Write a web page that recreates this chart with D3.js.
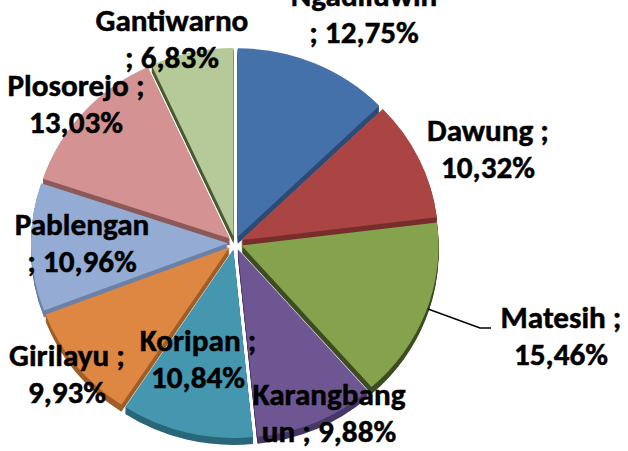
<!DOCTYPE html>
<html lang="id">
<head>
  <meta charset="utf-8">
  <title>Pie Kecamatan Matesih</title>
  <script src="https://cdn.jsdelivr.net/npm/d3@7"></script>
  <style>
    body { margin: 0; background: #fff; }
    .lbl { font-family: Carlito, Lato, "Open Sans", sans-serif; font-weight: bold; fill: #000;
           stroke: #000; stroke-width: 0.5px; }
  </style>
</head>
<body>
<script>
  // data desa (persen)
  const desa = ["Ngadiluwih", "Dawung", "Matesih", "Karangbangun", "Koripan",
                "Girilayu", "Pablengan", "Plosorejo", "Gantiwarno"];
  const persen = [12.75, 10.32, 15.46, 9.88, 10.84, 9.93, 10.96, 13.03, 6.83];

  // warna muka atas dan sisi gelap
  const warna = ["#4571aa", "#aa4543", "#85a24c", "#6e5693", "#4497ae",
                 "#dd8742", "#94abd3", "#d49392", "#b6c999"];
  const warnaSisi = ["#2e4c76", "#772e2c", "#3e4d23", "#483866", "#2a677a",
                     "#a05e27", "#6d81a6", "#8c5a59", "#4b5a31"];

  // posisi label (x tengah, baseline baris 1) dan cara memecah baris
  const labelPos = {
    "Ngadiluwih":   [364, 6, "b"],
    "Dawung":       [488, 141, "a"],
    "Matesih":      [561, 328, "a"],
    "Karangbangun": [329, 405, 10],
    "Koripan":      [198, 351, "a"],
    "Girilayu":     [67, 366, "a"],
    "Pablengan":    [82, 235, "b"],
    "Plosorejo":    [76, 96, "a"],
    "Gantiwarno":   [172, 31, "b"]
  };

  const w = 628, h = 451;
  const cx = 235, cy = 243;
  const R = 197, k = 0.957, explode = 7, depth = 7;

  const svg = d3.select("body").append("svg")
    .attr("width", w).attr("height", h);

  const data = desa.map((d, i) => ({ name: d, value: persen[i], i: i }));

  const pie = d3.pie().sort(null).value(d => d.value);
  const arcs = pie(data);
  const arc = d3.arc().innerRadius(0).outerRadius(R);

  function shift(a) {
    const mid = (a.startAngle + a.endAngle) / 2;
    return [Math.sin(mid) * explode, -Math.cos(mid) * explode];
  }

  // sisi 3D dulu
  const gSisi = svg.append("g").attr("transform", `translate(${cx},${cy + depth})`);
  for (let s = depth; s >= 1; s--) {
    gSisi.append("g")
      .attr("transform", `translate(0,${s - depth}) scale(1,${k})`)
      .selectAll("path")
      .data(arcs)
      .enter()
      .append("path")
      .attr("transform", d => `translate(${shift(d)[0]},${shift(d)[1]})`)
      .attr("d", arc)
      .attr("fill", d => warnaSisi[d.data.i]);
  }

  // muka atas
  const gMuka = svg.append("g").attr("transform", `translate(${cx},${cy}) scale(1,${k})`);
  gMuka.selectAll("path")
    .data(arcs)
    .enter()
    .append("path")
    .attr("transform", d => `translate(${shift(d)[0]},${shift(d)[1]})`)
    .attr("d", arc)
    .attr("fill", d => warna[d.data.i]);

  // garis penunjuk Matesih
  svg.append("polyline")
    .attr("points", "428,309 480,328 491,328")
    .attr("fill", "none")
    .attr("stroke", "#000")
    .attr("stroke-width", 1.5);

  // kalibrasi ukuran huruf: "Matesih ;" lebarnya kira-kira 120px
  const probe = svg.append("text").attr("class", "lbl").attr("font-size", 100).text("Matesih ;");
  const fs = Math.min(32, 100 * 121 / probe.node().getComputedTextLength());
  probe.remove();

  const fmt = v => v.toFixed(2).replace(".", ",") + "%";

  data.forEach(d => {
    const p = labelPos[d.name];
    let lines;
    if (p[2] === "a") lines = [d.name + " ;", fmt(d.value)];
    else if (p[2] === "b") lines = [d.name, "; " + fmt(d.value)];
    else {
      const full = d.name + " ; " + fmt(d.value);
      lines = [full.slice(0, p[2]), full.slice(p[2])];
    }
    const t = svg.append("text")
      .attr("class", "lbl")
      .attr("font-size", fs)
      .attr("text-anchor", "middle");
    lines.forEach((ln, j) => {
      t.append("tspan").attr("x", p[0]).attr("y", p[1] + j * 37).text(ln);
    });
  });
</script>
</body>
</html>
